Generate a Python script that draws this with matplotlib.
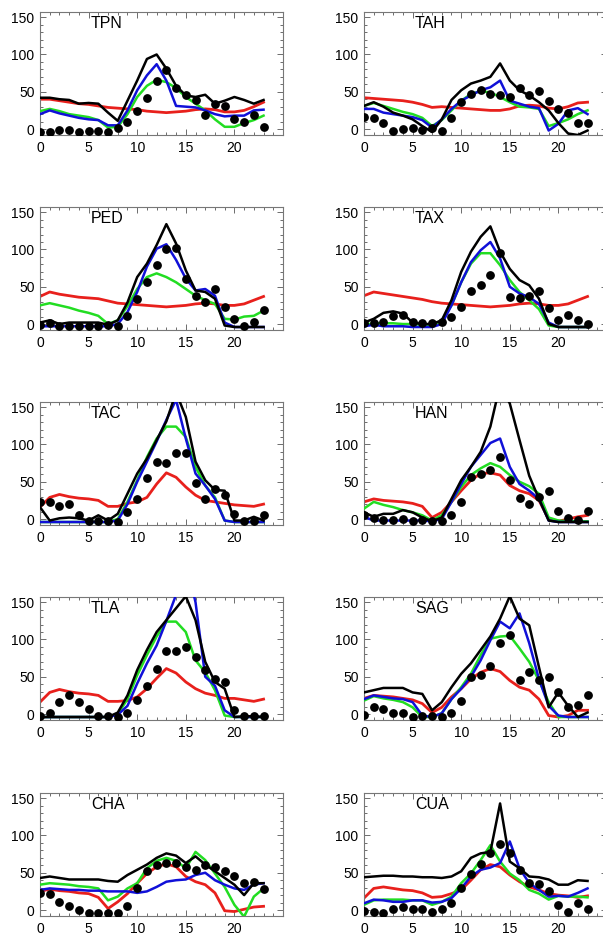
import matplotlib.pyplot as plt
from matplotlib.ticker import MultipleLocator, FixedLocator

plt.rcParams['font.family'] = ['Liberation Sans', 'DejaVu Sans']

hours = list(range(24))
stations = ["TPN", "TAH", "PED", "TAX", "TAC", "HAN", "TLA", "SAG", "CHA", "CUA"]
hour_ticks = [0, 5, 10, 15, 20]

# ---- observations (dots) ----
tpn_obs = [-4, -4, -1, -1, -4, -3, -3, -4, 2, 10, 24, 42, 64, 79, 55, 45, 39, 19, 33, 31, 13, 9, 19, 3]
tah_obs = [16, 15, 8, -2, 0, 2, -1, 1, -2, 15, 36, 47, 52, 47, 46, 43, 55, 45, 51, 38, 27, 22, 8, 8]
ped_obs = [-1, 2, -2, -2, -2, -2, -2, -1, -2, 11, 33, 56, 79, 101, 102, 60, 38, 29, 47, 23, 7, -3, 3, 19]
tax_obs = [1, 2, 3, 11, 12, 3, 2, 1, 3, 9, 23, 44, 53, 66, 95, 36, 35, 38, 44, 21, 5, 12, 5, 0]
tac_obs = [23, 23, 18, 20, 5, -2, -2, -2, -4, 10, 27, 55, 77, 75, 88, 89, 48, 27, 40, 32, 7, -2, -2, 5]
han_obs = [5, 2, -1, -1, 0, -2, -1, -2, -2, 6, 23, 56, 61, 66, 83, 52, 28, 20, 30, 37, 11, 2, -1, 11]
tla_obs = [-2, 2, 16, 26, 16, 7, -2, -3, -4, 1, 19, 38, 60, 84, 84, 90, 77, 59, 47, 43, 6, -2, -2, -3]
sag_obs = [-1, 9, 7, 1, 2, -4, -3, -3, -4, 1, 17, 50, 52, 64, 95, 106, 45, 56, 45, 50, 29, 9, 12, 26]
cha_obs = [23, 22, 11, 5, 0, -4, -4, -4, -4, 5, 30, 53, 61, 63, 63, 58, 54, 61, 58, 53, 46, 36, 38, 28]
cua_obs = [-1, -2, -4, 2, 4, 2, 1, -2, 2, 10, 29, 49, 62, 76, 89, 77, 54, 36, 35, 25, 7, -2, 10, 1]

# ---- black runs ----
tpn_black = [42, 42, 40, 39, 34, 35, 34, 22, 11, 38, 65, 94, 100, 81, 58, 45, 43, 46, 34, 38, 43, 39, 34, 39]
tah_black = [31, 36, 30, 22, 18, 13, 4, -4, 13, 39, 52, 61, 65, 70, 88, 65, 52, 45, 36, 25, 8, -6, -8, -2]
ped_black = [2, 5, 0, 2, 2, 2, 2, -1, 5, 29, 63, 81, 106, 134, 108, 72, 45, 43, 34, -2, -4, -4, -4, -4]
tax_black = [2, 7, 15, 17, 14, 2, 0, 0, 5, 32, 70, 97, 117, 131, 97, 74, 59, 52, 34, 0, -4, -4, -4, -4]
tac_black = [16, -2, 1, 2, 1, -2, 5, -2, 7, 34, 61, 81, 106, 131, 170, 137, 77, 52, 39, 38, -2, -2, 3, -2]
han_black = [9, 3, 7, 7, 12, 9, 2, -3, 2, 27, 52, 70, 90, 124, 180, 155, 106, 58, 27, -2, -4, -4, -4, -4]
tla_black = [-4, -4, -4, -4, -4, -4, -4, -4, 2, 25, 59, 86, 110, 126, 142, 158, 126, 70, 43, 34, -4, -3, -3, -4]
sag_black = [29, 32, 35, 35, 35, 29, 27, 5, 16, 36, 54, 68, 86, 104, 128, 158, 128, 119, 63, 9, 29, 11, -4, 2]
cha_black = [43, 45, 43, 41, 41, 41, 41, 39, 38, 47, 54, 61, 70, 76, 73, 63, 72, 61, 52, 43, 34, 20, 36, 36]
cua_black = [44, 45, 46, 46, 45, 45, 44, 44, 43, 45, 52, 70, 76, 78, 143, 65, 56, 45, 44, 41, 34, 34, 40, 39]

# ---- blue runs ----
tpn_blue = [20, 25, 21, 18, 15, 13, 12, 5, 5, 25, 52, 72, 87, 65, 31, 30, 29, 25, 20, 17, 18, 18, 25, 26]
tah_blue = [27, 27, 22, 20, 18, 16, 12, 2, 13, 27, 38, 45, 52, 56, 65, 38, 34, 30, 28, -2, 7, 25, 28, 20]
ped_blue = [-3, -3, -3, -3, -3, -3, -3, -3, 0, 16, 43, 77, 101, 107, 86, 61, 45, 47, 38, 2, -4, -4, -4, -4]
tax_blue = [-3, -1, -3, -3, -3, -4, -4, -4, 0, 25, 56, 83, 99, 110, 88, 50, 41, 36, 27, 2, -4, -4, -4, -4]
tac_blue = [-4, -4, -4, -4, -4, -4, -4, -4, -2, 20, 50, 77, 104, 133, 160, 108, 61, 45, 27, -2, -4, -4, -4, -4]
han_blue = [3, -2, -2, -2, -2, -2, -2, -3, 0, 23, 47, 70, 86, 102, 108, 70, 47, 38, 27, -2, -4, -4, -4, -4]
tla_blue = [-4, -4, -4, -4, -4, -4, -4, -4, -1, 11, 41, 68, 92, 125, 160, 205, 150, 50, 38, 5, -4, -4, -4, -4]
sag_blue = [20, 25, 23, 21, 20, 16, -2, -4, 1, 20, 34, 50, 72, 99, 124, 115, 135, 95, 47, 11, -2, -4, -4, -4]
cha_blue = [27, 29, 28, 27, 27, 26, 26, 25, 25, 25, 23, 25, 31, 38, 40, 41, 47, 50, 40, 34, 29, 27, 34, 36]
cua_blue = [9, 14, 13, 11, 11, 13, 13, 10, 11, 16, 29, 45, 54, 57, 63, 92, 56, 36, 27, 18, 19, 18, 23, 29]

# ---- green runs ----
tpn_green = [24, 27, 24, 20, 18, 16, 12, 2, 3, 20, 43, 58, 66, 63, 55, 43, 34, 25, 13, 3, 3, 8, 12, 18]
tah_green = [31, 35, 31, 27, 23, 20, 15, 4, 12, 25, 38, 47, 51, 49, 43, 36, 30, 29, 27, 4, 8, 13, 20, 25]
ped_green = [25, 28, 25, 22, 18, 15, 11, 0, 5, 24, 47, 63, 68, 63, 56, 47, 38, 32, 27, 7, 6, 10, 11, 18]
tax_green = [-1, 1, 1, 1, 0, 0, -1, -2, 5, 25, 56, 81, 95, 95, 79, 59, 43, 32, 20, -2, -4, -4, -4, -4]
tac_green = [-4, -4, -4, -4, -4, -4, -4, -4, 0, 23, 52, 83, 108, 124, 124, 110, 70, 45, 29, -2, -4, -4, -4, -4]
han_green = [14, 23, 19, 16, 12, 9, 5, -2, 5, 23, 43, 59, 68, 75, 70, 59, 50, 44, 34, 2, -2, -3, -3, -3]
tla_green = [-4, -4, -4, -4, -4, -4, -4, -4, 0, 20, 52, 79, 104, 124, 124, 110, 72, 56, 32, -2, -4, -4, -4, -4]
sag_green = [18, 24, 21, 19, 16, 9, -4, -4, 1, 20, 36, 54, 79, 101, 104, 105, 88, 70, 45, 16, -4, -4, -4, -4]
cha_green = [34, 36, 35, 34, 32, 31, 29, 13, 18, 29, 36, 56, 66, 70, 66, 56, 78, 67, 49, 31, 7, -9, 18, 29]
cua_green = [7, 13, 14, 14, 14, 13, 13, 7, 11, 18, 36, 49, 67, 87, 65, 49, 40, 27, 22, 14, 19, 18, 18, 17]

# ---- red runs ----
tpn_red = [40, 40, 38, 36, 34, 33, 31, 29, 28, 27, 26, 24, 23, 22, 23, 24, 26, 27, 26, 23, 23, 25, 30, 36]
tah_red = [42, 41, 40, 39, 38, 36, 33, 29, 30, 29, 28, 27, 26, 25, 25, 27, 31, 32, 31, 28, 27, 30, 35, 36]
ped_red = [37, 43, 40, 38, 36, 35, 34, 31, 28, 27, 26, 25, 24, 23, 24, 25, 27, 28, 27, 25, 25, 27, 32, 37]
tax_red = [38, 43, 41, 39, 37, 35, 33, 30, 28, 27, 26, 25, 24, 23, 24, 25, 27, 28, 27, 25, 25, 27, 32, 37]
tac_red = [16, 29, 33, 30, 28, 27, 25, 17, 17, 21, 23, 29, 47, 62, 56, 43, 32, 25, 23, 21, 19, 18, 17, 20]
han_red = [23, 27, 25, 24, 23, 21, 17, 2, 9, 23, 38, 52, 61, 62, 59, 45, 38, 34, 25, 0, -3, 0, 3, 5]
tla_red = [16, 29, 33, 30, 28, 27, 25, 17, 17, 18, 23, 34, 48, 61, 55, 43, 34, 28, 25, 21, 21, 19, 17, 20]
sag_red = [21, 25, 24, 23, 21, 19, 14, 2, 9, 23, 34, 47, 56, 61, 57, 45, 36, 32, 20, -2, -4, -2, 5, 5]
cha_red = [25, 28, 26, 25, 23, 22, 17, 2, 11, 22, 36, 49, 58, 62, 58, 45, 38, 34, 23, -1, -2, 1, 4, 5]
cua_red = [16, 29, 31, 29, 27, 26, 23, 17, 18, 22, 27, 40, 54, 61, 58, 47, 38, 31, 27, 22, 20, 19, 17, 19]

obs = [tpn_obs, tah_obs, ped_obs, tax_obs, tac_obs, han_obs, tla_obs, sag_obs, cha_obs, cua_obs]
black = [tpn_black, tah_black, ped_black, tax_black, tac_black, han_black, tla_black, sag_black, cha_black, cua_black]
blue = [tpn_blue, tah_blue, ped_blue, tax_blue, tac_blue, han_blue, tla_blue, sag_blue, cha_blue, cua_blue]
green = [tpn_green, tah_green, ped_green, tax_green, tac_green, han_green, tla_green, sag_green, cha_green, cua_green]
red = [tpn_red, tah_red, ped_red, tax_red, tac_red, han_red, tla_red, sag_red, cha_red, cua_red]

W, H = 603, 940
fig = plt.figure(figsize=(W / 100, H / 100), dpi=100)

# panel boxes in pixels (left, top), all the same size
lefts = [40, 364]
tops = [12, 207, 402, 597, 793]
box_w, box_h = 243, 123

for i, name in enumerate(stations):
    row, col = divmod(i, 2)
    x0 = lefts[col] / W
    y0 = 1 - (tops[row] + box_h) / H
    ax = fig.add_axes([x0, y0, box_w / W, box_h / H])

    ax.plot(hours, red[i], color="#e8201c", linewidth=2.0, zorder=2)
    ax.plot(hours, green[i], color="#22dd22", linewidth=1.8, zorder=3)
    ax.plot(hours, blue[i], color="#1010d8", linewidth=1.8, zorder=4)
    ax.plot(hours, black[i], color="black", linewidth=1.8, zorder=5)
    ax.scatter(hours, obs[i], s=28, color="black", zorder=6)

    ax.set_xlim(0, 25)
    ax.set_ylim(-8, 157)
    # no label at the right edge (25), only 0..20
    ax.xaxis.set_major_locator(FixedLocator(hour_ticks))
    ax.xaxis.set_minor_locator(MultipleLocator(1))
    ax.yaxis.set_major_locator(MultipleLocator(50))
    ax.yaxis.set_minor_locator(MultipleLocator(10))
    ax.tick_params(which="both", direction="in", top=True, right=True,
                   labelsize=10, width=0.6, colors="#555555", labelcolor="black")
    ax.tick_params(which="major", length=4, pad=4)
    ax.tick_params(which="minor", length=2)
    for s in ax.spines.values():
        s.set_linewidth(0.8)
        s.set_color("#777777")

    ax.text(0.21, 0.91, name, transform=ax.transAxes, fontsize=11.5,
            ha="left", va="center")

fig.savefig("out.png", dpi=100)
